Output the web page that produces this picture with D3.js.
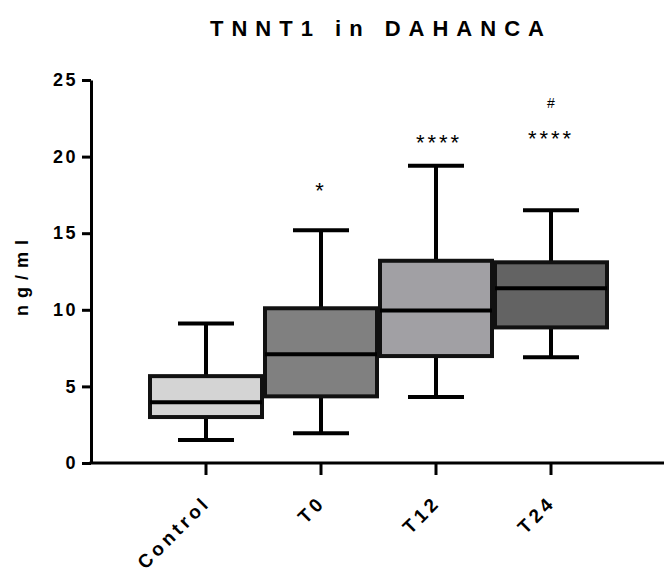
<!DOCTYPE html>
<html>
<head>
<meta charset="utf-8">
<script src="https://cdn.jsdelivr.net/npm/d3@7"></script>
<style>
  body { margin: 0; background: #fff; }
  svg text { font-family: "Liberation Sans", Arial, sans-serif; }
</style>
</head>
<body>
<div class="chart"></div>
<script>
// TNNT1 box plot, one box per group

var groups = ["Control", "T0", "T12", "T24"];
var whiskerLow = [1.5, 1.95, 4.3, 6.9];
var q1 = [3.0, 4.35, 6.98, 8.85];
var median = [3.97, 7.1, 9.96, 11.4];
var q3 = [5.67, 10.1, 13.2, 13.1];
var whiskerHigh = [9.1, 15.2, 19.4, 16.5];
var fills = ["#d4d4d4", "#808080", "#a1a0a4", "#636363"];
var marks = [[], ["*"], ["****"], ["****", "#"]];
var yTicks = [0, 5, 10, 15, 20, 25];

var width = 664,
	height = 568,
	margin = {top: 80, left: 91, bottom: 105};

var svg = d3.select(".chart").append("svg")
	.attr("width", width)
	.attr("height", height);

var x = d3.scaleBand().domain(groups).range([148.5, 608.5]).padding(0),
	y = d3.scaleLinear().domain([0, 25]).range([height - margin.bottom, margin.top]);

var data = groups.map(function(g, i) {
	return {group: g, lo: whiskerLow[i], q1: q1[i], med: median[i], q3: q3[i], hi: whiskerHigh[i], fill: fills[i], marks: marks[i]};
});

// title
svg.append("text")
	.attr("x", 381)
	.attr("y", 36)
	.attr("text-anchor", "middle")
	.style("font-size", "22px")
	.style("font-weight", "bold")
	.style("letter-spacing", "8px")
	.text("TNNT1 in DAHANCA");

// y axis
var yAxis = svg.append("g")
	.attr("transform", "translate(" + margin.left + ",0)")
	.call(d3.axisLeft(y).tickValues(yTicks).tickSize(9).tickSizeOuter(0).tickPadding(4));
yAxis.select(".domain").attr("stroke-width", 3);
yAxis.selectAll(".tick line").attr("stroke-width", 3);
yAxis.selectAll(".tick text")
	.style("font-size", "18px")
	.style("font-weight", "bold")
	.style("letter-spacing", "2.5px")
	.attr("fill", "#000");

svg.append("text")
	.attr("transform", "translate(28,274.5) rotate(-90)")
	.attr("text-anchor", "middle")
	.style("font-size", "18px")
	.style("font-weight", "bold")
	.style("letter-spacing", "7px")
	.text("ng/ml");

// x axis
var xAxis = svg.append("g")
	.attr("transform", "translate(0," + y(0) + ")")
	.call(d3.axisBottom(x).tickSize(12).tickSizeOuter(0).tickFormat(""));
xAxis.select(".domain").remove();
xAxis.selectAll(".tick line").attr("stroke-width", 3);
xAxis.append("line")
	.attr("x1", margin.left - 1.5)
	.attr("x2", width)
	.attr("stroke", "#000")
	.attr("stroke-width", 3);

svg.selectAll(".xlabel")
	.data(groups)
	.enter().append("text")
	.attr("class", "xlabel")
	.attr("transform", function(d) {
		return "translate(" + (x(d) + x.bandwidth() / 2 + 1) + "," + (y(0) + 36) + ") rotate(-45)";
	})
	.attr("text-anchor", "end")
	.attr("dy", "0.35em")
	.style("font-size", "19px")
	.style("font-weight", "bold")
	.style("letter-spacing", "3.8px")
	.text(function(d) { return d; });

// boxes
var box = svg.selectAll(".box")
	.data(data)
	.enter().append("g")
	.attr("class", "box")
	.attr("transform", function(d) { return "translate(" + (x(d.group) + x.bandwidth() / 2) + ",0)"; });

var bw = x.bandwidth() - 3,
	cap = bw / 2;

box.append("line")
	.attr("y1", function(d) { return y(d.lo); })
	.attr("y2", function(d) { return y(d.hi); })
	.attr("stroke", "#000")
	.attr("stroke-width", 4);

box.append("line")
	.attr("x1", -cap / 2).attr("x2", cap / 2)
	.attr("y1", function(d) { return y(d.hi); })
	.attr("y2", function(d) { return y(d.hi); })
	.attr("stroke", "#000")
	.attr("stroke-width", 4);

box.append("line")
	.attr("x1", -cap / 2).attr("x2", cap / 2)
	.attr("y1", function(d) { return y(d.lo); })
	.attr("y2", function(d) { return y(d.lo); })
	.attr("stroke", "#000")
	.attr("stroke-width", 4);

box.append("rect")
	.attr("x", -bw / 2)
	.attr("width", bw)
	.attr("y", function(d) { return y(d.q3); })
	.attr("height", function(d) { return y(d.q1) - y(d.q3); })
	.attr("fill", function(d) { return d.fill; })
	.attr("stroke", "#111")
	.attr("stroke-width", 4);

box.append("line")
	.attr("x1", -bw / 2).attr("x2", bw / 2)
	.attr("y1", function(d) { return y(d.med); })
	.attr("y2", function(d) { return y(d.med); })
	.attr("stroke", "#000")
	.attr("stroke-width", 4);

// significance marks
box.selectAll(".mark")
	.data(function(d, i) { return d.marks.map(function(m, j) { return {m: m, j: j, i: i}; }); })
	.enter().append("text")
	.attr("class", "mark")
	.attr("text-anchor", "middle")
	.attr("x", function(d) { return d.m == "#" ? 0 : (d.i == 2 ? 3 : 0); })
	.attr("y", function(d) {
		if (d.m == "#") return 108;
		if (d.m == "*") return 198;
		return d.i == 3 ? 146 : 150;
	})
	.style("font-size", function(d) { return d.m == "#" ? "14px" : "22px"; })
	.style("letter-spacing", function(d) { return d.m == "#" ? "0px" : "3px"; })
	.text(function(d) { return d.m; });
</script>
</body>
</html>
